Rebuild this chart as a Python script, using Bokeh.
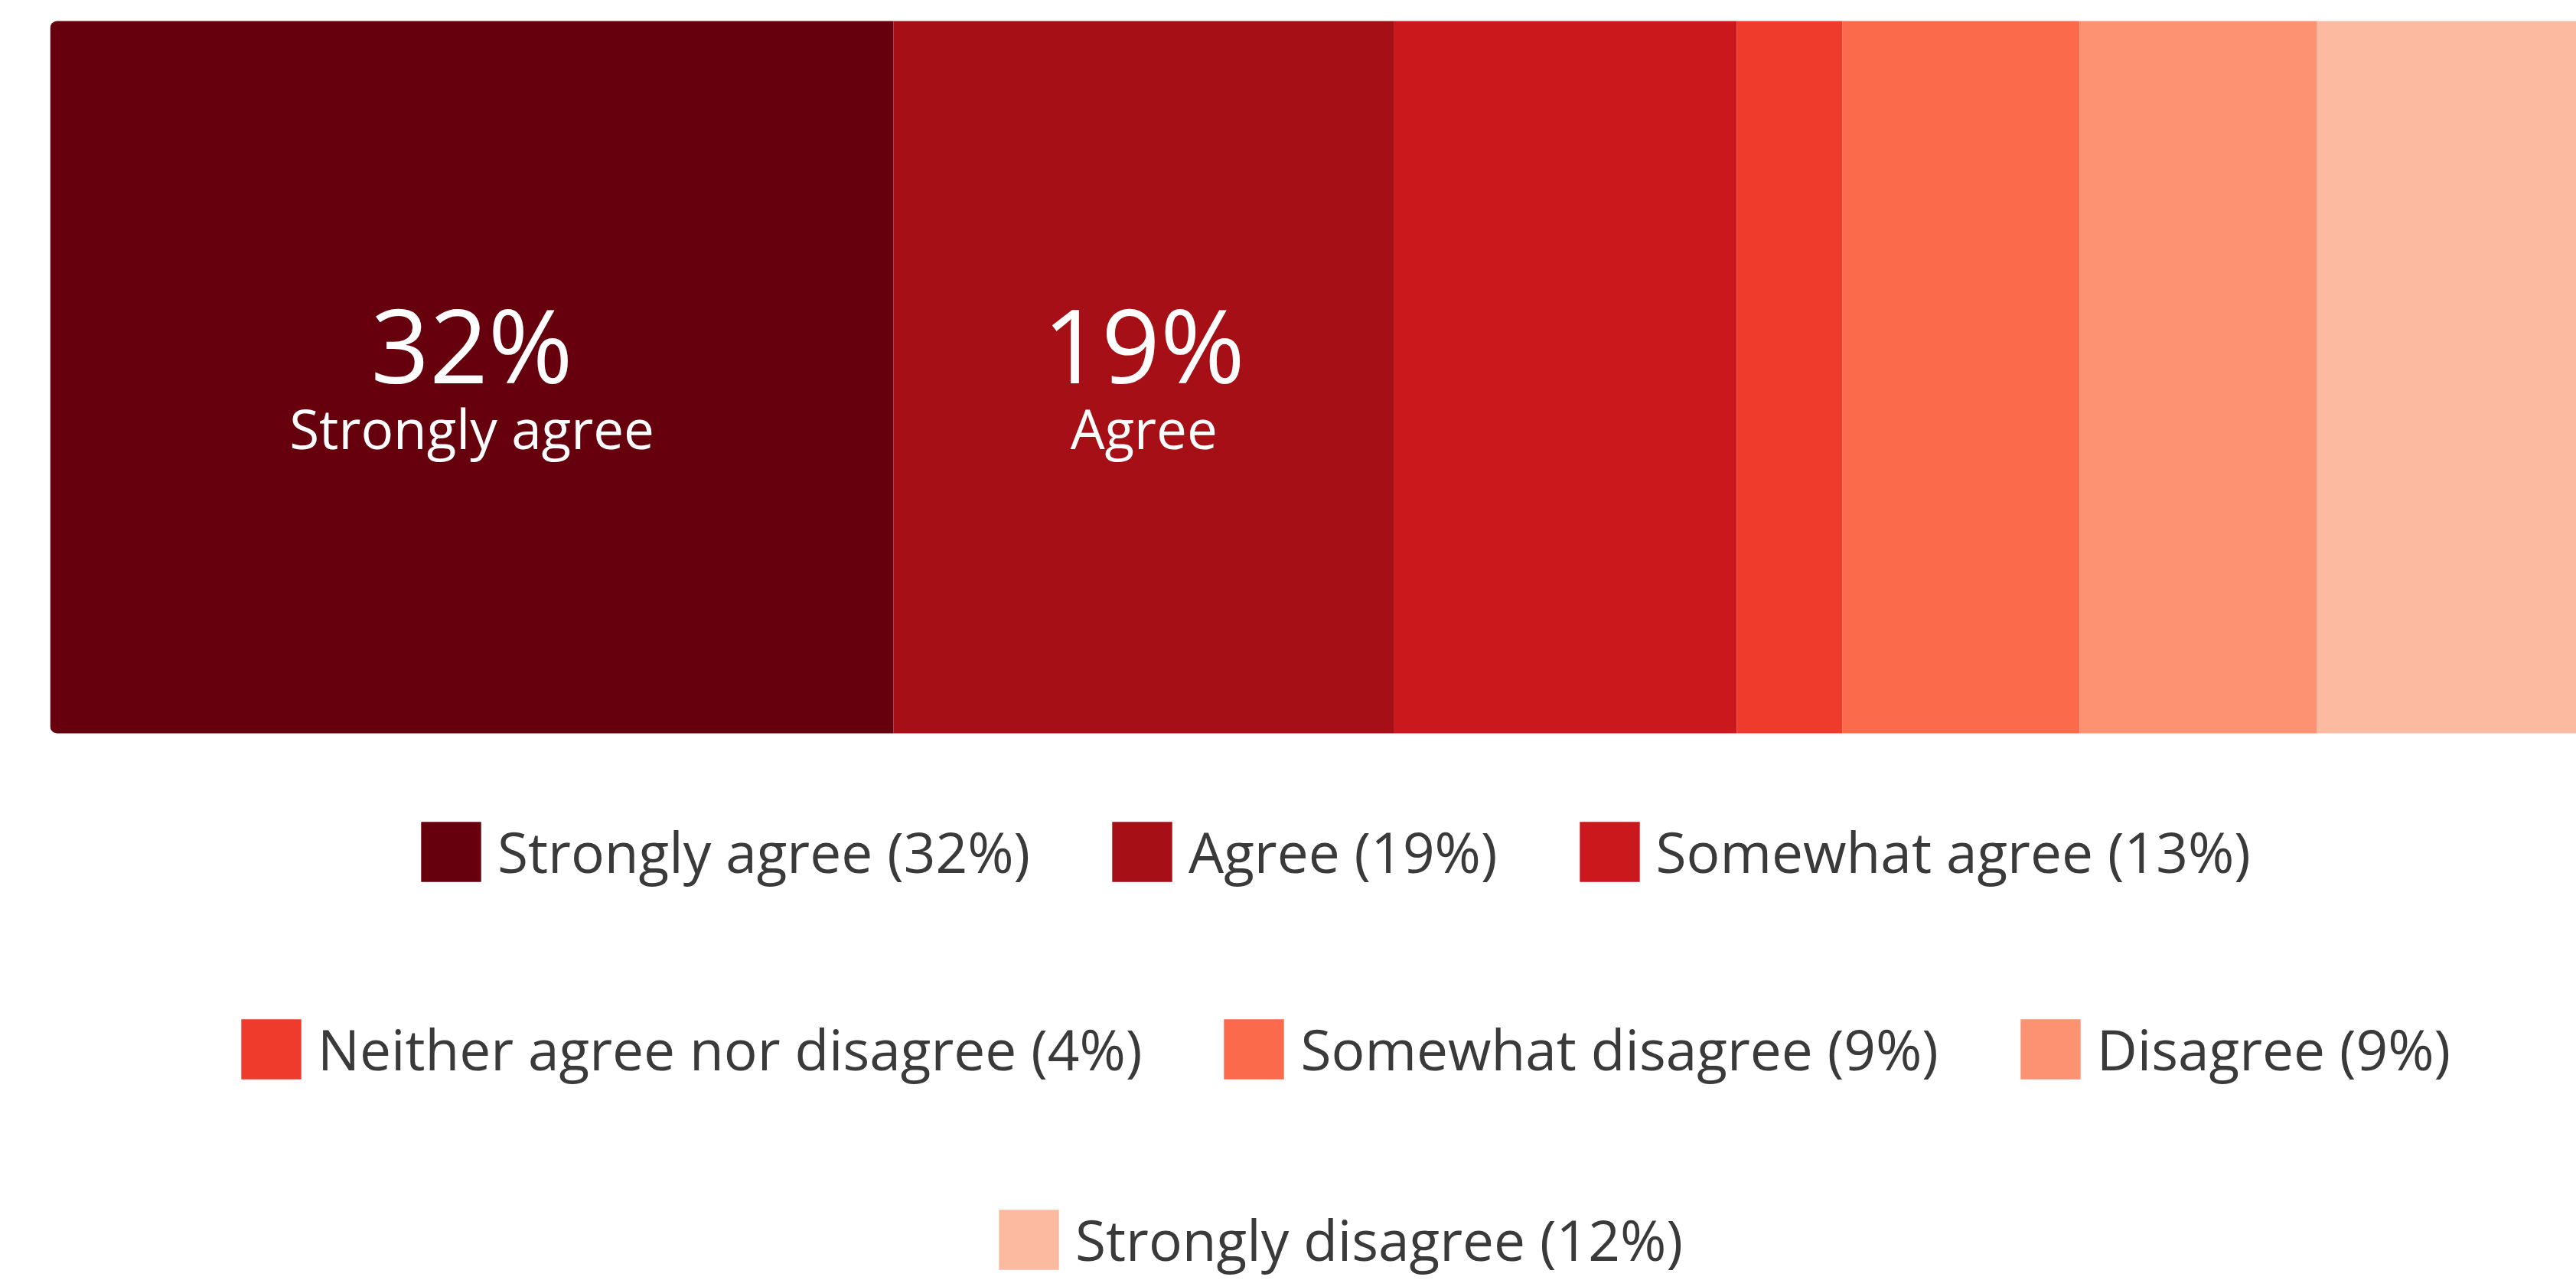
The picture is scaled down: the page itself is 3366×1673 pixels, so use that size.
from bokeh.plotting import figure
from bokeh.models import ColumnDataSource, Range1d, Legend, LegendItem
from bokeh.core.properties import value
from bokeh.embed import file_html
from bokeh.resources import INLINE

# ---- data ----
categories = ["Strongly agree", "Agree", "Somewhat agree", "Neither agree nor disagree",
              "Somewhat disagree", "Disagree", "Strongly disagree"]
percents = [32, 19, 13, 4, 9, 9, 12]
colors = ["#67000d", "#a50f15", "#cb181d", "#ef3b2c", "#fb6a4a", "#fc9272", "#fcbba1"]
legend_rows = [[0, 1, 2], [3, 4, 5], [6]]

FONT = "Open Sans"

starts, ends = [], []
acc = 0
for v in percents:
    starts.append(acc)
    acc += v
    ends.append(acc)

src = ColumnDataSource(dict(
    cat=categories, left=starts, right=ends, y=[0] * len(percents),
    color=colors,
    mid=[(s + e) / 2 for s, e in zip(starts, ends)],
    pct=[f"{v}%" for v in percents],
    leg=[f"{c} ({v}%)" for c, v in zip(categories, percents)],
))

W, H = 3366, 1673
p = figure(width=W, height=H, output_backend="svg", toolbar_location=None,
           x_range=Range1d(0, 95.85), y_range=Range1d(-1.268, 0.529),
           x_axis_location=None, y_axis_location=None,
           min_border_left=65, min_border_right=0, min_border_top=0, min_border_bottom=0)
p.grid.visible = False
p.outline_line_color = None
p.background_fill_color = "white"

# first segment with rounded left corners
first = ColumnDataSource({k: v[:1] for k, v in src.data.items()})
rest = ColumnDataSource({k: v[1:] for k, v in src.data.items()})
r0 = p.hbar(y="y", left="left", right="right", height=1, source=first,
            fill_color="color", line_color=None, border_radius=(9, 0, 0, 9))
r1 = p.hbar(y="y", left="left", right="right", height=1, source=rest,
            fill_color="color", line_color=None)

# labels in segments wide enough
lab = ColumnDataSource({k: [v for v, pc in zip(src.data[k], percents) if pc >= 15]
                        for k in src.data})
p.text(x="mid", y="y", text="pct", source=lab, text_align="center",
       text_baseline="alphabetic", y_offset=-44, text_color="white",
       text_font=value(FONT), text_font_size="134px")
p.text(x="mid", y="y", text="cat", source=lab, text_align="center",
       text_baseline="alphabetic", y_offset=67, text_color="white",
       text_font=value(FONT), text_font_size="71px")

def item(i):
    if i == 0:
        return LegendItem(label=src.data["leg"][0], renderers=[r0], index=0)
    return LegendItem(label=src.data["leg"][i], renderers=[r1], index=i - 1)

row_loc = [(475, 511), (240, 253), (1230, 4)]
for row, loc in zip(legend_rows, row_loc):
    lg = Legend(items=[item(i) for i in row], orientation="horizontal", location=loc,
                glyph_width=98, glyph_height=98, label_height=98, label_standoff=12,
                spacing=97, padding=0, margin=0, border_line_color=None,
                background_fill_alpha=0, label_text_font=FONT,
                label_text_font_size="73px", label_text_color="#3a3a3a",
                label_text_baseline="middle")
    p.add_layout(lg)

open("out.html", "w").write(file_html(p, INLINE))
